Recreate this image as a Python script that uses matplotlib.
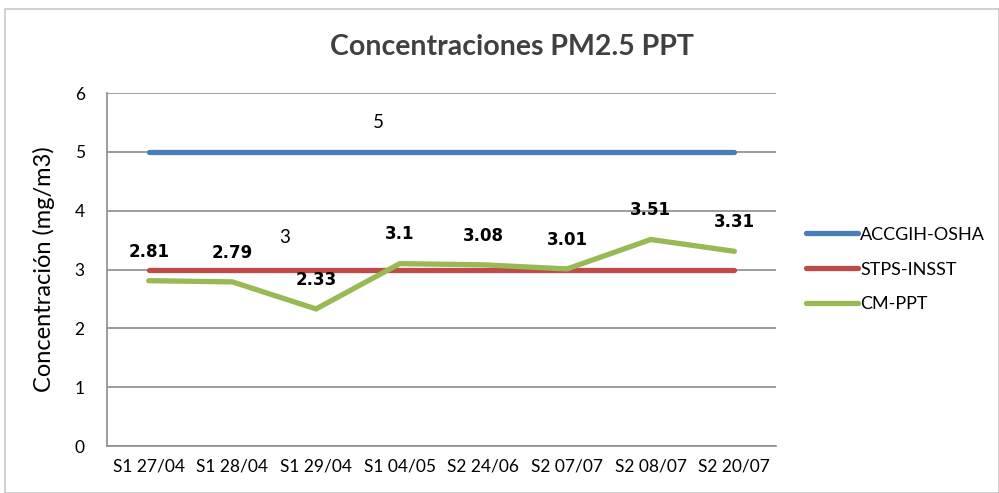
import matplotlib.pyplot as plt
from matplotlib.patches import Rectangle

categories = ["S1 27/04", "S1 28/04", "S1 29/04", "S1 04/05",
              "S2 24/06", "S2 07/07", "S2 08/07", "S2 20/07"]
osha = [5, 5, 5, 5, 5, 5, 5, 5]
insst = [3, 3, 3, 3, 3, 3, 3, 3]
cm_ppt = [2.81, 2.79, 2.33, 3.1, 3.08, 3.01, 3.51, 3.31]
cm_labels = ["2.81", "2.79", "2.33", "3.1", "3.08", "3.01", "3.51", "3.31"]

plt.rcParams['font.family'] = ['Lato', 'DejaVu Sans']

fig = plt.figure(figsize=(9.99, 4.93), dpi=100)
fig.patches.append(Rectangle((0.005, 0.0), 0.995, 0.982, transform=fig.transFigure,
                             fill=False, edgecolor='#c8c8c8', linewidth=1.2))
ax = fig.add_axes([0.107, 0.0953, 0.67, 0.716])

x = list(range(len(categories)))
ax.plot(x, osha, color='#4a7ebb', linewidth=3.8, solid_capstyle='round', label='ACCGIH-OSHA', zorder=3)
ax.plot(x, insst, color='#be4b48', linewidth=3.8, solid_capstyle='round', label='STPS-INSST', zorder=3)
ax.plot(x, cm_ppt, color='#98b954', linewidth=3.8, solid_capstyle='round',
        solid_joinstyle='miter', label='CM-PPT', zorder=4)

for xi, yi, lab in zip(x, cm_ppt, cm_labels):
    ax.annotate(lab, (xi, yi), xytext=(0, 21), textcoords='offset points',
                ha='center', va='center', fontsize=12, fontweight='bold',
                color='black', family='DejaVu Sans')

ax.text(2.75, 5.5, "5", ha='center', va='center', fontsize=13.5)
ax.text(1.63, 3.55, "3", ha='center', va='center', fontsize=13.5)

ax.set_xlim(-0.5, 7.5)
ax.set_ylim(0, 6)
ax.set_yticks(range(7))
ax.set_xticks(x)
ax.set_xticklabels(categories)
ax.tick_params(axis='both', length=0, labelsize=12.5, colors='black')
ax.tick_params(axis='y', pad=16)
ax.tick_params(axis='x', pad=9)
ax.grid(axis='y', color='#8c8c8c', linewidth=1.2)
ax.set_axisbelow(True)
for s in ['top', 'right']:
    ax.spines[s].set_visible(False)
for s in ['left', 'bottom']:
    ax.spines[s].set_color('#8c8c8c')
    ax.spines[s].set_linewidth(1.2)

ax.set_ylabel("Concentración (mg/m3)", fontsize=17, labelpad=14)
fig.text(0.512, 0.905, "Concentraciones PM2.5 PPT", ha='center', va='center',
         fontsize=20.5, fontweight='bold', color='#404040')

ax.legend(loc='center left', bbox_to_anchor=(1.02, 0.5), frameon=False,
          fontsize=13, handlelength=2.9, handletextpad=0.1, labelspacing=1.05)

fig.savefig("out.png", dpi=100)
